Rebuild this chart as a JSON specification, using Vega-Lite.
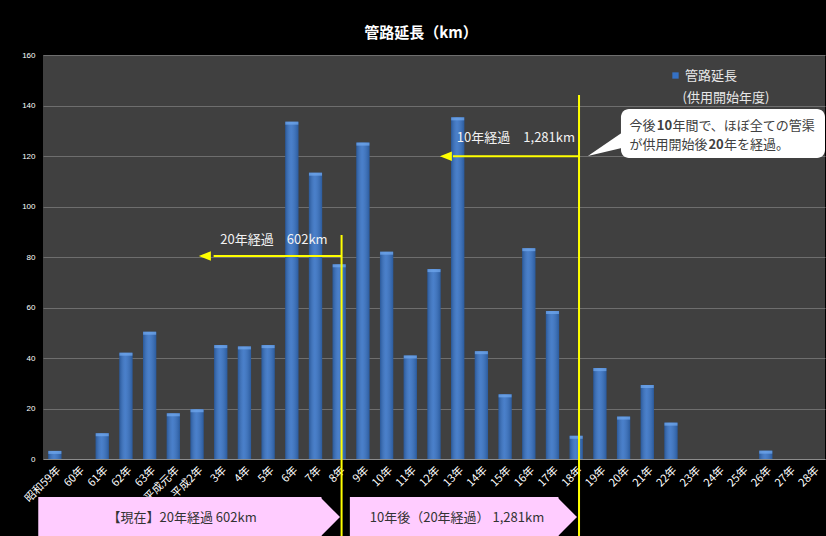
{
  "$schema": "https://vega.github.io/schema/vega-lite/v6.json",
  "width": 782,
  "height": 404,
  "autosize": {"type": "none"},
  "padding": {"left": 43, "top": 55, "right": 1, "bottom": 77},
  "background": "#000000",
  "title": {"text": "管路延長（km）", "color": "#ffffff", "fontSize": 15, "fontWeight": "bold", "anchor": "middle", "frame": "group", "dx": -13, "offset": 10, "font": "Noto Sans CJK JP"},
  "config": {
    "font": "Noto Sans CJK JP",
    "view": {"fill": "#404040", "stroke": null},
    "axisX": {"labelAngle": -45, "labelFontSize": 11, "labelColor": "#ffffff", "ticks": false, "domainColor": "#8c8c8c", "labelPadding": 5, "grid": false},
    "axisY": {"grid": true, "gridColor": "#6e6e6e", "ticks": false, "domain": false, "labelFontSize": 8, "labelColor": "#ffffff", "labelPadding": 8, "labelFont": "Liberation Sans", "tickCount": 8}
  },
  "datasets": {
    "bars": [
      {"year": "昭和59年", "km": 3.2},
      {"year": "60年", "km": 0},
      {"year": "61年", "km": 10.2},
      {"year": "62年", "km": 42.1},
      {"year": "63年", "km": 50.4},
      {"year": "平成元年", "km": 18.1},
      {"year": "平成2年", "km": 19.7},
      {"year": "3年", "km": 45.1},
      {"year": "4年", "km": 44.6},
      {"year": "5年", "km": 45.1},
      {"year": "6年", "km": 133.6},
      {"year": "7年", "km": 113.4},
      {"year": "8年", "km": 77.1},
      {"year": "9年", "km": 125.3},
      {"year": "10年", "km": 82.1},
      {"year": "11年", "km": 41.0},
      {"year": "12年", "km": 75.2},
      {"year": "13年", "km": 135.3},
      {"year": "14年", "km": 42.7},
      {"year": "15年", "km": 25.6},
      {"year": "16年", "km": 83.5},
      {"year": "17年", "km": 58.6},
      {"year": "18年", "km": 9.2},
      {"year": "19年", "km": 36.0},
      {"year": "20年", "km": 16.8},
      {"year": "21年", "km": 29.3},
      {"year": "22年", "km": 14.4},
      {"year": "23年", "km": 0},
      {"year": "24年", "km": 0},
      {"year": "25年", "km": 0},
      {"year": "26年", "km": 3.3},
      {"year": "27年", "km": 0},
      {"year": "28年", "km": 0}
    ]
  },
  "resolve": {"scale": {"x": "independent"}},
  "layer": [
    {
      "data": {"name": "bars"},
      "layer": [
        {
          "mark": {"type": "bar"},
          "encoding": {
            "x": {"field": "year", "type": "ordinal", "sort": null, "scale": {"paddingInner": 0.44, "paddingOuter": 0.22}, "title": null},
            "y": {"field": "km", "type": "quantitative", "scale": {"domain": [0, 160], "nice": false}, "title": null},
            "color": {"datum": "管路延長", "scale": {"range": ["#3571c4"]}, "legend": {"orient": "none", "legendX": 626, "legendY": 14, "title": null, "symbolType": "square", "symbolSize": 40, "symbolStrokeWidth": 0, "labelFontSize": 13, "labelColor": "#e8e8e8", "labelFont": "Noto Sans CJK JP", "labelOffset": 3, "padding": 0}}
          }
        },
        {
          "mark": {"type": "bar", "fill": {"gradient": "linear", "x1": 0, "y1": 0, "x2": 1, "y2": 0, "stops": [{"offset": 0, "color": "rgba(0,0,0,0.22)"}, {"offset": 0.45, "color": "rgba(255,255,255,0.10)"}, {"offset": 1, "color": "rgba(0,0,0,0.2)"}]}},
          "encoding": {
            "x": {"field": "year", "type": "ordinal", "sort": null, "title": null},
            "y": {"field": "km", "type": "quantitative", "title": null}
          }
        },
        {
          "transform": [{"filter": "datum.km > 0"}],
          "mark": {"type": "tick", "color": "#72aaf0", "thickness": 3, "size": 13, "yOffset": 1.5},
          "encoding": {
            "x": {"field": "year", "type": "ordinal", "sort": null, "title": null},
            "y": {"field": "km", "type": "quantitative", "title": null}
          }
        }
      ]
    },
    {
      "layer": [
        {
          "data": {"values": [
            {"x": 12.6, "x2": 12.6, "y": 88.7, "y2": -33},
            {"x": 22.62, "x2": 22.62, "y": 144.2, "y2": -33},
            {"x": 12.6, "x2": 7.2, "y": 80.4, "y2": 80.4},
            {"x": 22.62, "x2": 17.3, "y": 119.9, "y2": 119.9}
          ]},
          "mark": {"type": "rule", "color": "#ffff00", "strokeWidth": 2},
          "encoding": {
            "x": {"field": "x", "type": "quantitative", "scale": {"domain": [0, 33], "nice": false, "zero": false}, "axis": null},
            "x2": {"field": "x2"},
            "y": {"field": "y", "type": "quantitative", "scale": {"domain": [0, 160], "nice": false}, "title": null},
            "y2": {"field": "y2"}
          }
        },
        {
          "data": {"values": [{"x": 6.83, "y": 80.4}, {"x": 17.0, "y": 119.9}]},
          "mark": {"type": "point", "shape": "M -1 0 L 1 -0.8 L 1 0.8 Z", "filled": true, "size": 144, "color": "#ffff00", "opacity": 1, "strokeWidth": 0},
          "encoding": {
            "x": {"field": "x", "type": "quantitative", "axis": null},
            "y": {"field": "y", "type": "quantitative", "title": null}
          }
        },
        {
          "data": {"values": [{"x": 12.01, "y": 86.7, "t": "20年経過　602km"}, {"x": 22.45, "y": 127.0, "t": "10年経過　1,281km"}]},
          "mark": {"type": "text", "align": "right", "baseline": "middle", "fontSize": 13, "color": "#f2f2f2"},
          "encoding": {
            "x": {"field": "x", "type": "quantitative", "axis": null},
            "y": {"field": "y", "type": "quantitative", "title": null},
            "text": {"field": "t"}
          }
        },
        {
          "data": {"values": [{"x": -0.2, "x2": 11.75, "y": -15.05, "y2": -30.9}, {"x": 12.95, "x2": 21.75, "y": -15.05, "y2": -30.9}]},
          "mark": {"type": "rect", "color": "#ffccff", "opacity": 1},
          "encoding": {
            "x": {"field": "x", "type": "quantitative", "axis": null},
            "x2": {"field": "x2"},
            "y": {"field": "y", "type": "quantitative", "title": null},
            "y2": {"field": "y2"}
          }
        },
        {
          "data": {"values": [{"x": 11.69, "y": -23.0}, {"x": 21.69, "y": -23.0}]},
          "mark": {"type": "point", "shape": "M 0 -1 L 1 0 L 0 1 Z", "filled": true, "size": 1600, "color": "#ffccff", "opacity": 1, "strokeWidth": 0},
          "encoding": {
            "x": {"field": "x", "type": "quantitative", "axis": null},
            "y": {"field": "y", "type": "quantitative", "title": null}
          }
        },
        {
          "data": {"values": [{"x": 5.87, "y": -23.2, "t": "【現在】20年経過 602km"}, {"x": 17.47, "y": -23.2, "t": "10年後（20年経過） 1,281km"}]},
          "mark": {"type": "text", "align": "center", "baseline": "middle", "fontSize": 13, "color": "#333333"},
          "encoding": {
            "x": {"field": "x", "type": "quantitative", "axis": null},
            "y": {"field": "y", "type": "quantitative", "title": null},
            "text": {"field": "t"}
          }
        },
        {
          "data": {"values": [{"x": 24.39, "x2": 33.0, "y": 138.6, "y2": 119.2}]},
          "mark": {"type": "rect", "color": "#ffffff", "opacity": 1, "cornerRadius": 8},
          "encoding": {
            "x": {"field": "x", "type": "quantitative", "axis": null},
            "x2": {"field": "x2"},
            "y": {"field": "y", "type": "quantitative", "title": null},
            "y2": {"field": "y2"}
          }
        },
        {
          "data": {"values": [{"x": 24.26, "y": 123.96}]},
          "mark": {"type": "point", "shape": "M -1.5 0.5 L 0.4 -0.8 L 0.4 0.05 Z", "filled": true, "size": 1600, "color": "#ffffff", "opacity": 1, "strokeWidth": 0},
          "encoding": {
            "x": {"field": "x", "type": "quantitative", "axis": null},
            "y": {"field": "y", "type": "quantitative", "title": null}
          }
        },
        {
          "data": {"values": [
            {"x": 24.75, "y": 131.75, "t": "今後"},
            {"x": 26.56, "y": 131.75, "t": "年間で、ほぼ全ての管渠"},
            {"x": 24.75, "y": 124.2, "t": "が供用開始後"},
            {"x": 28.74, "y": 124.2, "t": "年を経過。"}
          ]},
          "mark": {"type": "text", "align": "left", "baseline": "middle", "fontSize": 13, "color": "#404040"},
          "encoding": {
            "x": {"field": "x", "type": "quantitative", "axis": null},
            "y": {"field": "y", "type": "quantitative", "title": null},
            "text": {"field": "t"}
          }
        },
        {
          "data": {"values": [
            {"x": 25.9, "y": 131.75, "t": "10"},
            {"x": 28.08, "y": 124.2, "t": "20"}
          ]},
          "mark": {"type": "text", "align": "left", "baseline": "middle", "fontSize": 13, "fontWeight": "bold", "color": "#404040"},
          "encoding": {
            "x": {"field": "x", "type": "quantitative", "axis": null},
            "y": {"field": "y", "type": "quantitative", "title": null},
            "text": {"field": "t"}
          }
        },
        {
          "data": {"values": [{"x": 26.99, "y": 143.0, "t": "(供用開始年度)"}]},
          "mark": {"type": "text", "align": "left", "baseline": "middle", "fontSize": 13, "color": "#e8e8e8"},
          "encoding": {
            "x": {"field": "x", "type": "quantitative", "axis": null},
            "y": {"field": "y", "type": "quantitative", "title": null},
            "text": {"field": "t"}
          }
        }
      ]
    }
  ]
}
